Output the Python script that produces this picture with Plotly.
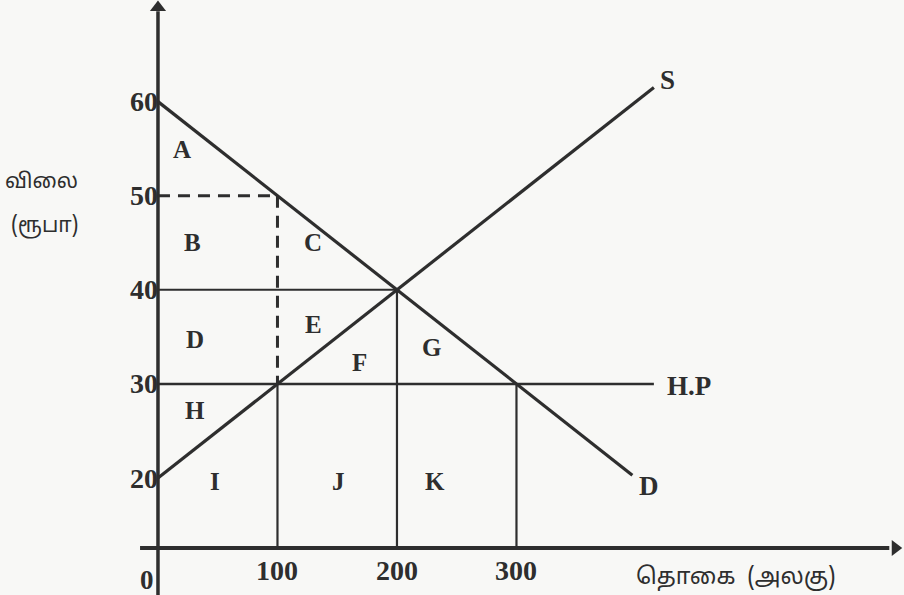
import plotly.graph_objects as go

# ---- data ----
supply_q = [0, 415]
supply_p = [20, 61.5]
demand_q = [0, 397]
demand_p = [60, 20.3]
hp_q = [0, 415]
hp_p = [30, 30]
eq_q = [0, 200]
eq_p = [40, 40]
dash_h_q = [0, 100]
dash_h_p = [50, 50]
dash_v_q = [100, 100]
dash_v_p = [50, 30]
vert_q = [100, 200, 300]
vert_top_p = [30, 40, 30]
axis_p = 12.56
y_ticks = [60, 50, 40, 30, 20]
x_ticks = [100, 200, 300]
area_labels = ["A", "B", "C", "D", "E", "F", "G", "H", "I", "J", "K"]
area_q = [20, 29, 130, 31, 130, 169, 229, 31, 48, 151, 232]
area_p = [54.9, 45.0, 45.0, 34.7, 36.3, 32.3, 33.9, 27.2, 19.6, 19.6, 19.6]
curve_labels = ["S", "H.P", "D"]
curve_q = [426, 444, 411]
curve_p = [62.3, 29.8, 19.2]

INK = "#2e2e2e"
SERIF = "Liberation Serif, Times New Roman, serif"
TAMIL = "Noto Sans Tamil, Latha, Noto Sans, sans-serif"

fig = go.Figure()

def line(xs, ys, w=3, dash="solid"):
    fig.add_trace(go.Scatter(x=xs, y=ys, mode="lines",
                             line=dict(color=INK, width=w, dash=dash),
                             hoverinfo="skip", showlegend=False))

# axes
line([-15, 612], [axis_p, axis_p], w=4)
line([0, 0], [7.0, 69.6], w=3.5)
fig.add_trace(go.Scatter(x=[617], y=[axis_p], mode="markers",
                         marker=dict(symbol="triangle-right", size=14, color=INK),
                         hoverinfo="skip", showlegend=False))
fig.add_trace(go.Scatter(x=[0], y=[70.0], mode="markers",
                         marker=dict(symbol="triangle-up", size=14, color=INK),
                         hoverinfo="skip", showlegend=False))

# curves
line(supply_q, supply_p, w=3.2)
line(demand_q, demand_p, w=3.2)
line(hp_q, hp_p, w=2.5)
line(eq_q, eq_p, w=2)
line(dash_h_q, dash_h_p, w=3, dash="12px,8px")
line(dash_v_q, dash_v_p, w=3, dash="12px,8px")
for q, p in zip(vert_q, vert_top_p):
    line([q, q], [axis_p, p], w=2.2)

ann = []
for t, q, p in zip(area_labels, area_q, area_p):
    ann.append(dict(x=q, y=p, text=t, showarrow=False,
                    font=dict(family=SERIF, size=25, color=INK, weight="bold")))
for t, q, p in zip(curve_labels, curve_q, curve_p):
    ann.append(dict(x=q, y=p, text=t, showarrow=False,
                    font=dict(family=SERIF, size=27, color=INK, weight="bold")))
for v in y_ticks:
    ann.append(dict(x=0, y=v, text=str(v), showarrow=False, xanchor="right", xshift=2,
                    font=dict(family=SERIF, size=28, color=INK, weight="bold")))
for v in x_ticks:
    ann.append(dict(x=v, y=10.2, text=str(v), showarrow=False,
                    font=dict(family=SERIF, size=28, color=INK, weight="bold")))
ann.append(dict(x=0, y=9.2, text="0", showarrow=False, xanchor="right", xshift=-2,
                font=dict(family=SERIF, size=27, color=INK, weight="bold")))
ann.append(dict(x=-97.5, y=51.4, text="விலை", showarrow=False,
                font=dict(family=TAMIL, size=21, color=INK)))
ann.append(dict(x=-95, y=46.7, text="(ரூபா)", showarrow=False,
                font=dict(family=TAMIL, size=21, color=INK)))
ann.append(dict(x=484, y=9.3, text="தொகை  (அலகு)", showarrow=False,
                font=dict(family=TAMIL, size=23, color=INK)))

fig.update_layout(
    width=904, height=595,
    margin=dict(l=0, r=0, t=0, b=0),
    paper_bgcolor="#f8f8f6", plot_bgcolor="#f8f8f6",
    xaxis=dict(range=[-132.2, 624.3], visible=False, fixedrange=True),
    yaxis=dict(range=[7.57, 70.8], visible=False, fixedrange=True),
    annotations=ann,
    showlegend=False,
)

fig.write_html("out.html",
               config={"displayModeBar": False},
               post_script="document.body.style.margin='0';document.body.style.background='#f8f8f6';")
